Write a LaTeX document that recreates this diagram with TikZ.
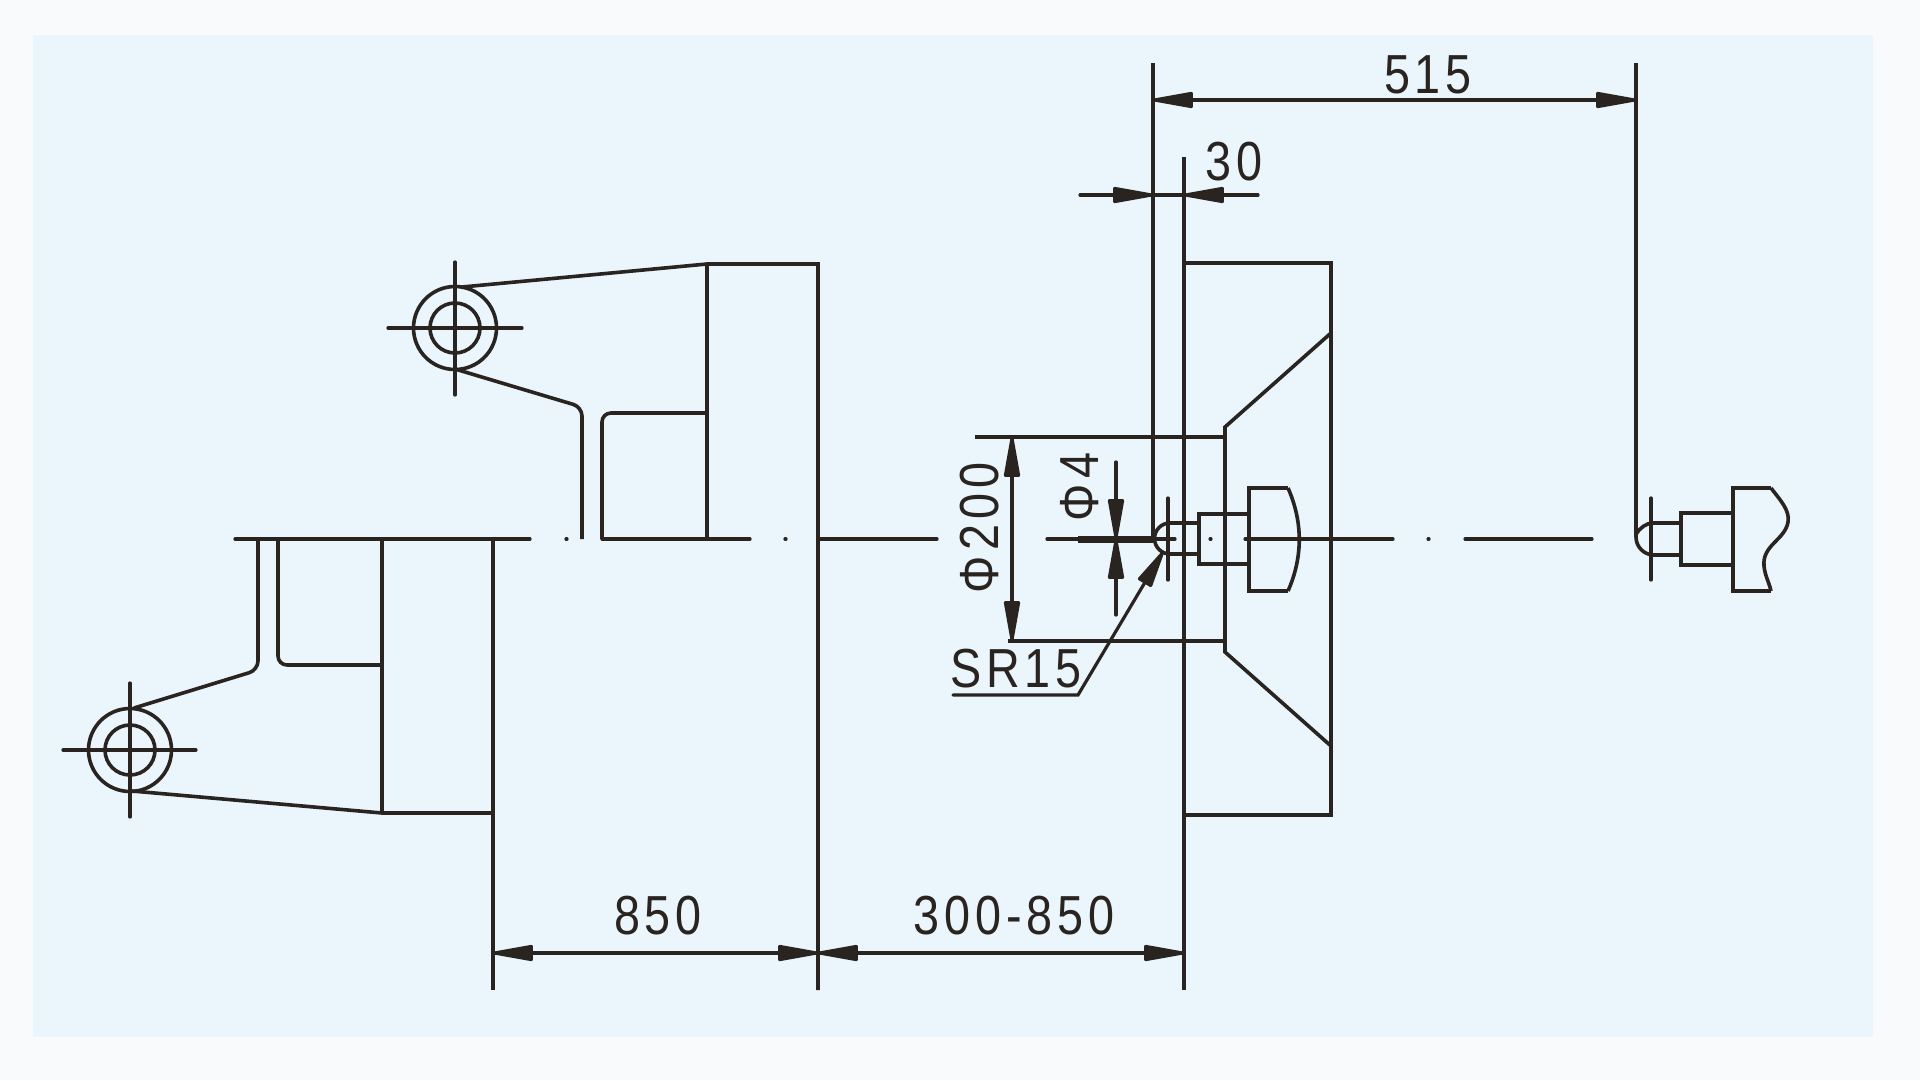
\documentclass[tikz,border=0pt]{standalone}
\usepackage{fontspec}
\setmainfont{Liberation Sans}
\newfontfamily\cadfont[LetterSpace=9,FakeStretch=0.85]{Liberation Sans}
\usepackage{xcolor}
\usetikzlibrary{arrows.meta,positioning}
\definecolor{inkc}{HTML}{2A2421}
\definecolor{pagec}{HTML}{F8FAFC}
\definecolor{panelc}{HTML}{EAF5FC}
\tikzset{
  part/.style={draw=inkc,line width=3.6pt,line join=miter},
  thin part/.style={draw=inkc,line width=3.2pt,line cap=round},
  hub/.style={circle,draw=inkc,line width=3.6pt,inner sep=0pt},
  dimtxt/.style={text=inkc,inner sep=0pt,font=\cadfont\fontsize{55}{55}\selectfont}
}

\begin{document}
\begin{tikzpicture}[x=1pt,y=-1pt,>={Triangle[length=48pt,width=16pt,round]}]
        \fill[pagec] (0,0) rectangle (1920,1080);
        \fill[panelc] (33,35) rectangle (1873,1037);

        % centre line
        \draw [thin part] (235,539) -- (530,539);
        \draw [thin part] (566,539) -- (567,539);
        \draw [thin part] (602,539) -- (750,539);
        \draw [thin part] (785,539) -- (786,539);
        \draw [thin part] (818,539) -- (937,539);
        \draw [thin part] (1047,539) -- (1175,539);
        \draw [thin part] (1210,539) -- (1211,539);
        \draw [thin part] (1245,539) -- (1393,539);
        \draw [thin part] (1428,539) -- (1429,539);
        \draw [thin part] (1465,539) -- (1592,539);

        % upper arm
        \node[hub,minimum size=83pt] (hubA) at (455,328) {};
        \node[hub,minimum size=50pt] (eyeA) at (455,328) {};
        \draw [thin part] (388,328) -- (522,328);
        \draw [thin part] (455,262) -- (455,395);
        \draw [part] (462,287) -- (707,264) -- (818,264) -- (818,990);
        \draw [part] (707,264) -- (707,539);
        \draw [part,rounded corners=9pt] (455,369) -- (582,407) -- (582,539);
        \draw [part,rounded corners=9pt] (602,539) -- (602,413) -- (707,413);

        % lower arm
        \node[hub,minimum size=83pt] (hubB) at (130,750) {};
        \node[hub,minimum size=50pt] (eyeB) at (130,750) {};
        \draw [thin part] (63,750) -- (196,750);
        \draw [thin part] (130,683) -- (130,817);
        \draw [part,rounded corners=9pt] (134,708) -- (258,670) -- (258,539);
        \draw [part,rounded corners=9pt] (278,539) -- (278,665) -- (382,665);
        \draw [part] (382,539) -- (382,813);
        \draw [part] (132,791) -- (382,813) -- (493,813);
        \draw [part] (493,539) -- (493,990);

        % platen
        \draw [part] (1184,157) -- (1184,990);
        \draw [part] (1184,263) -- (1331,263) -- (1331,815) -- (1184,815);
        \draw [part] (1331,333) -- (1225,427) -- (1225,652) -- (1331,746);
        \draw [part] (975,437) -- (1225,437);
        \draw [part] (1008,641) -- (1225,641);

        % nozzle at the platen
        \draw [part] (1170,523) arc[start angle=270,end angle=90,radius=15.5];
        \draw [part] (1170,523) -- (1199,523);
        \draw [part] (1170,554) -- (1199,554);
        \draw [thin part] (1168,498) -- (1168,580);
        \draw [part] (1199,514) rectangle (1249,564);
        \draw [part] (1288,488) -- (1249,488) -- (1249,591) -- (1288,591);
        \draw [part] (1288,488) .. controls (1303,522) and (1303,557) .. (1288,591);

        % nozzle on the right
        \draw [part] (1653,523) -- (1681,523);
        \draw [part] (1653,555) -- (1681,555);
        \draw [part] (1636,63) -- (1636,537) arc[start angle=180,end angle=90,radius=18] -- (1656,555);
        \draw [part] (1636,534) .. controls (1640,528) and (1646,523) .. (1653,523);
        \draw [thin part] (1651,498) -- (1651,580);
        \draw [part] (1681,513) rectangle (1733,565);
        \draw [part] (1771,488) -- (1733,488) -- (1733,591) -- (1771,591);
        \draw [part] (1771,488) .. controls (1780,500) and (1790,510) .. (1788,522)
              .. controls (1785,540) and (1762,545) .. (1764,566) .. controls (1765,576) and (1769,582) .. (1771,591);

        % dimensions
        \coordinate (w1) at (1153,100);
        \coordinate (w2) at (1636,100);
        \coordinate (s1) at (1080,195);
        \coordinate (s2) at (1153,195);
        \coordinate (s3) at (1184,195);
        \coordinate (s4) at (1258,195);
        \coordinate (d1) at (1012,437);
        \coordinate (d2) at (1012,641);
        \coordinate (f1) at (1116,462);
        \coordinate (f2) at (1116,539);
        \coordinate (f3) at (1116,615);
        \coordinate (f4) at (1078,539);
        \coordinate (f5) at (1153,539);
        \coordinate (r1) at (953,695);
        \coordinate (r2) at (1078,695);
        \coordinate (r3) at (1163,552);
        \coordinate (b1) at (493,953);
        \coordinate (b2) at (818,953);
        \coordinate (b3) at (1184,953);

        \draw [part] (1153,63) -- (f5);
        \draw [thin part,<->] (w1) to (w2);
        \draw [thin part,->] (s1) to (s2);
        \draw [thin part,->] (s4) to (s3);
        \draw [thin part] (s2) to (s3);
        \draw [thin part,<->] (d1) to (d2);
        \draw [thin part,->] (f1) to (f2);
        \draw [thin part,->] (f3) to (f2);
        \draw [thin part,line width=7pt,line cap=butt] (f4) to (f5);
        \draw [thin part,-{Triangle[length=44pt,width=16pt,round]}] (r1) to (r2) to (r3);
        \draw [thin part,<->] (b1) to (b2);
        \draw [thin part,<->] (b2) to (b3);

        \node[dimtxt] (lenA) at (1428,75) {515};
        \node[dimtxt] (lenB) at (1234,162) {30};
        \node[dimtxt,rotate=90] (diaA) at (980,528) {Φ200};
        \node[dimtxt,rotate=90] (diaB) at (1080,487) {Φ4};
        \node[dimtxt] (rad) at (1016,669) {SR15};
        \node[dimtxt] (lenC) at (658,916) {850};
        \node[dimtxt] (lenD) at (1014,916) {300-850};
    \end{tikzpicture}
\end{document}
